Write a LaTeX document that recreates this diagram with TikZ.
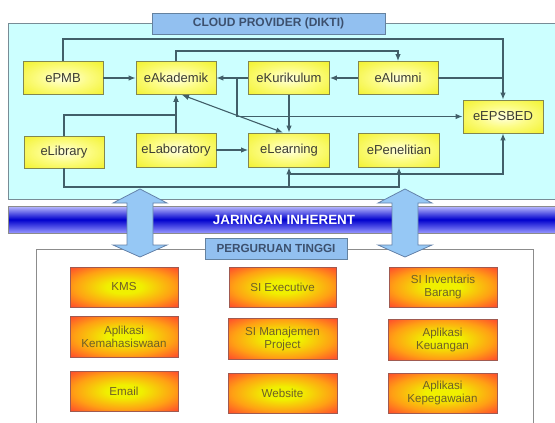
\documentclass[tikz,border=0pt]{standalone}
\usepackage{fontspec}
\setmainfont{Liberation Sans}
\usetikzlibrary{arrows.meta,calc}
\definecolor{cloudfill}{RGB}{204,255,255}
\definecolor{cloudbord}{RGB}{120,140,150}
\definecolor{titlefill}{RGB}{146,192,240}
\definecolor{titlebord}{RGB}{100,130,160}
\definecolor{titletext}{RGB}{60,80,110}
\definecolor{yctr}{RGB}{255,255,225}
\definecolor{yin}{RGB}{252,252,130}
\definecolor{yout}{RGB}{238,238,10}
\definecolor{ybord}{RGB}{130,135,80}
\definecolor{ytext}{RGB}{60,60,50}
\definecolor{oin}{RGB}{240,240,0}
\definecolor{omid}{RGB}{255,160,20}
\definecolor{oout}{RGB}{255,55,50}
\definecolor{obord}{RGB}{160,90,80}
\definecolor{otext}{RGB}{110,95,40}
\definecolor{lcol}{RGB}{65,95,105}
\definecolor{bandtop}{RGB}{190,190,255}
\definecolor{bandmid}{RGB}{0,0,205}
\definecolor{bandbot}{RGB}{150,150,255}
\definecolor{bigarrow}{RGB}{150,200,245}
\definecolor{bigarrowbord}{RGB}{100,130,170}
\definecolor{lowbord}{RGB}{140,140,140}
\pgfdeclareradialshading{oshade}{\pgfpoint{0bp}{0bp}}{color(0bp)=(oin); color(8bp)=(oin); color(23bp)=(omid); color(38bp)=(oout); color(100bp)=(oout)}
\pgfdeclareradialshading{yshade}{\pgfpoint{0bp}{0bp}}{color(0bp)=(yctr); color(16bp)=(yin); color(44bp)=(yout); color(100bp)=(yout)}
\begin{document}
\begin{tikzpicture}[x=1pt,y=-1pt,
  ybox/.style={draw=ybord, line width=0.8pt, shading=yshade,
    minimum width=80pt, minimum height=33pt, inner sep=0pt, text=ytext,
    font=\fontsize{13}{15}\selectfont},
  obox/.style={draw=obord, line width=0.8pt, shading=oshade,
    minimum width=108pt, minimum height=40pt, inner sep=0pt, text=otext, align=center,
    font=\fontsize{11.6}{13}\selectfont},
  tbox/.style={draw=titlebord, line width=0.8pt, fill=titlefill, inner sep=0pt,
    text=titletext, font=\fontsize{12}{14}\selectfont\bfseries},
  conn/.style={draw=lcol, line width=1.1pt},
  arr/.style={conn, -{Latex[length=7pt,width=5.5pt]}},
  darr/.style={conn, {Latex[length=7pt,width=5.5pt]}-{Latex[length=7pt,width=5.5pt]}},
  band/.style={draw=lowbord, line width=0.8pt, top color=bandtop, bottom color=bandbot, middle color=bandmid,
    inner sep=0pt, text=white, font=\fontsize{13.4}{15}\selectfont\bfseries}
]
\useasboundingbox (0,0) rectangle (555,423);
\clip (0,0) rectangle (555,423);
% cloud area
\draw[draw=cloudbord, fill=cloudfill, line width=0.9pt] (8,23) rectangle (565,199);
\node[tbox, minimum width=233pt, minimum height=21pt] (cloudtitle) at (268.5,23.5) {CLOUD PROVIDER (DIKTI)};
% yellow nodes
\node[ybox] (ePMB) at (63,78) {ePMB};
\node[ybox] (eAkademik) at (176,78) {eAkademik};
\node[ybox, minimum width=81pt] (eKurikulum) at (289,78) {eKurikulum};
\node[ybox] (eAlumni) at (398,78) {eAlumni};
\node[ybox] (eEPSBED) at (503,116.5) {eEPSBED};
\node[ybox, minimum height=32pt] (eLibrary) at (64,152) {eLibrary};
\node[ybox, minimum height=34pt] (eLaboratory) at (176,150) {eLaboratory};
\node[ybox, minimum width=81pt, minimum height=34pt] (eLearning) at (289,150) {eLearning};
\node[ybox, minimum width=81pt, minimum height=34pt] (ePenelitian) at (399,150) {ePenelitian};
% connectors
\draw[arr] (ePMB.north) -- (ePMB.north |- 0,39) -| (eEPSBED.north);
\draw[conn] (eAlumni.east) -- (eAlumni.east -| eEPSBED.north);
\draw[arr] (eAkademik.north) -- (eAkademik.north |- 0,51) -| (eAlumni.north);
\draw[arr] (ePMB.east) -- (eAkademik.west);
\draw[arr] (eKurikulum.west) -- (eAkademik.east);
\draw[arr] (eAlumni.west) -- (eKurikulum.east);
\coordinate (j1) at (237,78);
\draw[arr] (j1) |- (eEPSBED.west);
\draw[arr] (eKurikulum.south) -- (eLearning.north);
\draw[darr] ([xshift=6pt]eAkademik.south) -- ([xshift=-6pt]eLearning.north);
\draw[arr] (eLibrary.north) -- (eLibrary.north |- 0,115) -| (eAkademik.south);
\draw[arr] (eLaboratory.north) -- (eAkademik.south);
\draw[arr] (eLaboratory.east) -- (eLearning.west);
\draw[arr] (eLibrary.south) -- (eLibrary.south |- 0,187) -| (ePenelitian.south);
\coordinate (j2) at (eLearning.south |- 0,187);
\draw[arr] (j2) -- (eLearning.south);
\coordinate (j3) at (eLearning.south |- 0,174);
\draw[arr] (j3) -| (eEPSBED.south);
% network band
\node[band, minimum width=552pt, minimum height=27pt] (jaringan) at (284,219.5) {JARINGAN INHERENT};
% lower area
\draw[draw=lowbord, fill=white, line width=0.9pt] (36,249) rectangle (533,440);
\node[tbox, minimum width=142pt, minimum height=21pt, font=\fontsize{11.7}{14}\selectfont\bfseries] (pt) at (276,248.5) {PERGURUAN TINGGI};
% big double arrows
\foreach \cx in {140,405}{
  \draw[draw=bigarrowbord, fill=bigarrow, line width=0.8pt]
    (\cx,189) -- (\cx+27,203) -- (\cx+13,203) -- (\cx+13,245) -- (\cx+27,245) -- (\cx,257)
    -- (\cx-27,245) -- (\cx-13,245) -- (\cx-13,203) -- (\cx-27,203) -- cycle;
}
% orange boxes
\node[obox] (kms) at (124,287) {KMS};
\node[obox, minimum height=41pt] (kemhs) at (124,336.5) {Aplikasi\\Kemahasiswaan};
\node[obox] (email) at (124,391) {Email};
\node[obox, minimum width=107pt] (siexe) at (282.5,287) {SI Executive};
\node[obox, minimum width=109pt, minimum height=41pt] (simp) at (282.5,338.5) {SI Manajemen\\Project};
\node[obox, minimum width=109pt] (web) at (282.5,393) {Website};
\node[obox] (siinv) at (443,287) {SI Inventaris\\Barang};
\node[obox, minimum width=109pt, minimum height=41pt] (keu) at (442.5,339.5) {Aplikasi\\Keuangan};
\node[obox, minimum width=109pt] (kepeg) at (442.5,393) {Aplikasi\\Kepegawaian};
\end{tikzpicture}
\end{document}
